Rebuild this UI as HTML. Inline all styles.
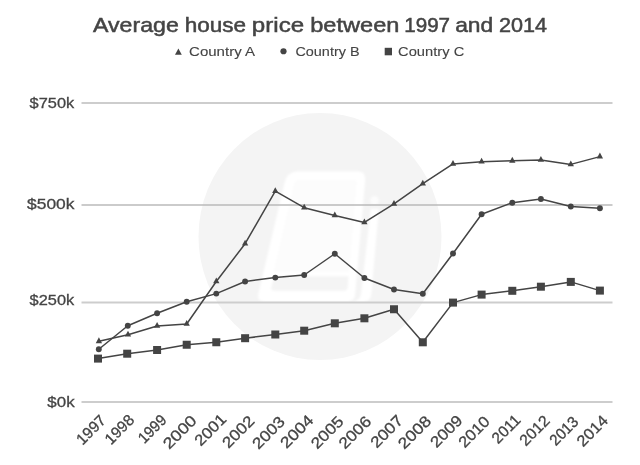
<!DOCTYPE html>
<html><head><meta charset="utf-8"><title>Average house price between 1997 and 2014</title>
<style>html,body{margin:0;padding:0;background:#fff;}body{width:640px;height:465px;overflow:hidden;}svg{display:block;filter:blur(0.4px);}text{font-family:"Liberation Sans",sans-serif;}</style>
</head><body>
<svg width="640" height="465" viewBox="0 0 640 465">
<defs><filter id="soft" x="-5%" y="-5%" width="110%" height="110%"><feGaussianBlur stdDeviation="0.9"/></filter></defs>
<rect x="0" y="0" width="640" height="465" fill="#ffffff"/>
<g id="watermark">
<ellipse cx="320" cy="236.5" rx="121.5" ry="123.5" fill="#f4f4f4"/>
<g filter="url(#soft)">
<path d="M299,171.3 L357,171.3 Q366,171.3 365.2,180 L355.2,294 Q354.5,302 346,302 L266,302 Q256.5,302 258.4,293.5 L284.5,183 Q287,171.3 299,171.3 Z" fill="#ffffff"/>
<path d="M299,180 L354,180 Q357,180 356.7,183 L349.3,272 L273.5,272 L294,184 Q295,180 299,180 Z" fill="#fcfcfc"/>
<path d="M274.3,276.2 L348.6,276.2 L347.6,287.7 Q347.3,290.7 344,290.7 L274.5,290.7 Q270.5,290.7 271.3,287.3 Z" fill="#f4f4f4"/>
<path d="M370.8,209 L378.8,209 L371.3,294 Q370.5,302 362.3,302 L352,302 Q360.3,301 361.2,293 Z" fill="#ffffff"/>
<ellipse cx="374.5" cy="200.5" rx="4.4" ry="4.4" fill="#fcfcfc"/>
</g>
</g>
<line x1="81.5" y1="103" x2="612.5" y2="103" stroke="#cdcdcd" stroke-width="2"/>
<line x1="81.5" y1="205" x2="612.5" y2="205" stroke="#bababa" stroke-width="1.5"/>
<line x1="81.5" y1="302.5" x2="612.5" y2="302.5" stroke="#cdcdcd" stroke-width="2"/>
<line x1="81.5" y1="402" x2="612.5" y2="402" stroke="#cdcdcd" stroke-width="2"/>
<text x="93.03" y="31.60" font-size="20.6" fill="#444444" stroke="#444444" stroke-width="0.5" textLength="85.77" lengthAdjust="spacingAndGlyphs">Average</text>
<text x="184.69" y="31.60" font-size="20.6" fill="#444444" stroke="#444444" stroke-width="0.5" textLength="61.43" lengthAdjust="spacingAndGlyphs">house</text>
<text x="251.88" y="31.60" font-size="20.6" fill="#444444" stroke="#444444" stroke-width="0.5" textLength="52.28" lengthAdjust="spacingAndGlyphs">price</text>
<text x="310.17" y="31.60" font-size="20.6" fill="#444444" stroke="#444444" stroke-width="0.5" textLength="89.24" lengthAdjust="spacingAndGlyphs">between</text>
<text x="404.25" y="31.60" font-size="20.6" fill="#444444" stroke="#444444" stroke-width="0.5" textLength="45.80" lengthAdjust="spacingAndGlyphs">1997</text>
<text x="455.15" y="31.60" font-size="20.6" fill="#444444" stroke="#444444" stroke-width="0.5" textLength="38.10" lengthAdjust="spacingAndGlyphs">and</text>
<text x="499.05" y="31.60" font-size="20.6" fill="#444444" stroke="#444444" stroke-width="0.5" textLength="48.06" lengthAdjust="spacingAndGlyphs">2014</text>
<path d="M178.4,48.4 L181.8,54.8 L175.0,54.8 Z" fill="#444444"/>
<text x="189.05" y="56.40" font-size="13.7" fill="#444444" stroke="#444444" stroke-width="0.12" textLength="65.98" lengthAdjust="spacingAndGlyphs">Country A</text>
<circle cx="283.5" cy="51.25" r="3.1" fill="#444444"/>
<text x="295.41" y="56.40" font-size="13.7" fill="#444444" stroke="#444444" stroke-width="0.12" textLength="64.11" lengthAdjust="spacingAndGlyphs">Country B</text>
<rect x="384.7" y="47.8" width="7.3" height="7.5" fill="#444444"/>
<text x="398.08" y="56.40" font-size="13.7" fill="#444444" stroke="#444444" stroke-width="0.12" textLength="66.20" lengthAdjust="spacingAndGlyphs">Country C</text>
<text x="29.62" y="107.50" font-size="15.3" fill="#444444" stroke="#444444" stroke-width="0.3" textLength="44.62" lengthAdjust="spacingAndGlyphs">$750k</text>
<text x="27.07" y="209.00" font-size="15.3" fill="#444444" stroke="#444444" stroke-width="0.3" textLength="47.42" lengthAdjust="spacingAndGlyphs">$500k</text>
<text x="29.62" y="304.90" font-size="15.3" fill="#444444" stroke="#444444" stroke-width="0.3" textLength="44.62" lengthAdjust="spacingAndGlyphs">$250k</text>
<text x="47.36" y="406.60" font-size="15.3" fill="#444444" stroke="#444444" stroke-width="0.3" textLength="27.24" lengthAdjust="spacingAndGlyphs">$0k</text>
<text transform="translate(107.00,421.25) rotate(-45)" text-anchor="end" font-size="15.5" fill="#444444" stroke="#444444" stroke-width="0.3" textLength="34.78" lengthAdjust="spacingAndGlyphs">1997</text>
<text transform="translate(135.30,421.00) rotate(-45)" text-anchor="end" font-size="15.5" fill="#444444" stroke="#444444" stroke-width="0.3" textLength="34.53" lengthAdjust="spacingAndGlyphs">1998</text>
<text transform="translate(167.50,421.00) rotate(-45)" text-anchor="end" font-size="15.5" fill="#444444" stroke="#444444" stroke-width="0.3" textLength="33.00" lengthAdjust="spacingAndGlyphs">1999</text>
<text transform="translate(197.70,421.60) rotate(-45)" text-anchor="end" font-size="15.5" fill="#444444" stroke="#444444" stroke-width="0.3" textLength="40.25" lengthAdjust="spacingAndGlyphs">2000</text>
<text transform="translate(227.40,420.20) rotate(-45)" text-anchor="end" font-size="15.5" fill="#444444" stroke="#444444" stroke-width="0.3" textLength="37.58" lengthAdjust="spacingAndGlyphs">2001</text>
<text transform="translate(255.50,422.10) rotate(-45)" text-anchor="end" font-size="15.5" fill="#444444" stroke="#444444" stroke-width="0.3" textLength="38.09" lengthAdjust="spacingAndGlyphs">2002</text>
<text transform="translate(285.95,422.60) rotate(-45)" text-anchor="end" font-size="15.5" fill="#444444" stroke="#444444" stroke-width="0.3" textLength="38.73" lengthAdjust="spacingAndGlyphs">2003</text>
<text transform="translate(314.60,421.30) rotate(-45)" text-anchor="end" font-size="15.5" fill="#444444" stroke="#444444" stroke-width="0.3" textLength="39.62" lengthAdjust="spacingAndGlyphs">2004</text>
<text transform="translate(344.50,422.50) rotate(-45)" text-anchor="end" font-size="15.5" fill="#444444" stroke="#444444" stroke-width="0.3" textLength="38.47" lengthAdjust="spacingAndGlyphs">2005</text>
<text transform="translate(372.20,422.50) rotate(-45)" text-anchor="end" font-size="15.5" fill="#444444" stroke="#444444" stroke-width="0.3" textLength="38.60" lengthAdjust="spacingAndGlyphs">2006</text>
<text transform="translate(404.00,421.50) rotate(-45)" text-anchor="end" font-size="15.5" fill="#444444" stroke="#444444" stroke-width="0.3" textLength="38.60" lengthAdjust="spacingAndGlyphs">2007</text>
<text transform="translate(432.10,422.10) rotate(-45)" text-anchor="end" font-size="15.5" fill="#444444" stroke="#444444" stroke-width="0.3" textLength="39.36" lengthAdjust="spacingAndGlyphs">2008</text>
<text transform="translate(463.60,421.50) rotate(-45)" text-anchor="end" font-size="15.5" fill="#444444" stroke="#444444" stroke-width="0.3" textLength="38.22" lengthAdjust="spacingAndGlyphs">2009</text>
<text transform="translate(490.80,422.60) rotate(-45)" text-anchor="end" font-size="15.5" fill="#444444" stroke="#444444" stroke-width="0.3" textLength="36.69" lengthAdjust="spacingAndGlyphs">2010</text>
<text transform="translate(521.50,421.00) rotate(-45)" text-anchor="end" font-size="15.5" fill="#444444" stroke="#444444" stroke-width="0.3" textLength="33.13" lengthAdjust="spacingAndGlyphs">2011</text>
<text transform="translate(550.70,421.70) rotate(-45)" text-anchor="end" font-size="15.5" fill="#444444" stroke="#444444" stroke-width="0.3" textLength="35.29" lengthAdjust="spacingAndGlyphs">2012</text>
<text transform="translate(579.50,422.75) rotate(-45)" text-anchor="end" font-size="15.5" fill="#444444" stroke="#444444" stroke-width="0.3" textLength="33.64" lengthAdjust="spacingAndGlyphs">2013</text>
<text transform="translate(609.00,421.50) rotate(-45)" text-anchor="end" font-size="15.5" fill="#444444" stroke="#444444" stroke-width="0.3" textLength="36.82" lengthAdjust="spacingAndGlyphs">2014</text>
<polyline points="98.00,358.60 127.20,353.70 157.10,350.00 186.70,344.75 216.30,342.25 245.10,338.20 275.30,334.50 304.20,330.70 334.80,323.30 364.40,318.30 394.00,309.25 422.80,342.30 453.00,302.60 481.60,294.60 512.30,290.80 540.90,286.70 570.80,281.90 599.90,290.60" fill="none" stroke="#444444" stroke-width="1.5" stroke-linejoin="round"/>
<polyline points="98.80,349.25 127.80,325.75 157.10,313.25 186.70,301.75 216.30,293.60 245.10,281.50 275.30,277.60 304.20,275.00 334.80,253.75 364.40,278.00 394.00,289.50 422.80,293.75 453.00,253.50 481.60,214.20 512.30,202.70 540.90,199.00 570.80,206.50 599.90,208.20" fill="none" stroke="#444444" stroke-width="1.5" stroke-linejoin="round"/>
<polyline points="98.90,341.30 128.00,334.70 157.10,325.95 186.70,323.95 216.30,281.45 245.10,243.70 275.30,191.20 304.20,207.70 334.80,215.45 364.40,222.45 394.00,203.95 422.80,183.70 453.00,163.95 481.60,161.70 512.30,160.80 540.90,159.90 570.80,164.40 599.90,156.60" fill="none" stroke="#444444" stroke-width="1.5" stroke-linejoin="round"/>
<rect x="94.00" y="354.60" width="8" height="8" fill="#444444"/>
<rect x="123.20" y="349.70" width="8" height="8" fill="#444444"/>
<rect x="153.10" y="346.00" width="8" height="8" fill="#444444"/>
<rect x="182.70" y="340.75" width="8" height="8" fill="#444444"/>
<rect x="212.30" y="338.25" width="8" height="8" fill="#444444"/>
<rect x="241.10" y="334.20" width="8" height="8" fill="#444444"/>
<rect x="271.30" y="330.50" width="8" height="8" fill="#444444"/>
<rect x="300.20" y="326.70" width="8" height="8" fill="#444444"/>
<rect x="330.80" y="319.30" width="8" height="8" fill="#444444"/>
<rect x="360.40" y="314.30" width="8" height="8" fill="#444444"/>
<rect x="390.00" y="305.25" width="8" height="8" fill="#444444"/>
<rect x="418.80" y="338.30" width="8" height="8" fill="#444444"/>
<rect x="449.00" y="298.60" width="8" height="8" fill="#444444"/>
<rect x="477.60" y="290.60" width="8" height="8" fill="#444444"/>
<rect x="508.30" y="286.80" width="8" height="8" fill="#444444"/>
<rect x="536.90" y="282.70" width="8" height="8" fill="#444444"/>
<rect x="566.80" y="277.90" width="8" height="8" fill="#444444"/>
<rect x="595.90" y="286.60" width="8" height="8" fill="#444444"/>
<circle cx="98.80" cy="349.25" r="2.95" fill="#444444"/>
<circle cx="127.80" cy="325.75" r="2.95" fill="#444444"/>
<circle cx="157.10" cy="313.25" r="2.95" fill="#444444"/>
<circle cx="186.70" cy="301.75" r="2.95" fill="#444444"/>
<circle cx="216.30" cy="293.60" r="2.95" fill="#444444"/>
<circle cx="245.10" cy="281.50" r="2.95" fill="#444444"/>
<circle cx="275.30" cy="277.60" r="2.95" fill="#444444"/>
<circle cx="304.20" cy="275.00" r="2.95" fill="#444444"/>
<circle cx="334.80" cy="253.75" r="2.95" fill="#444444"/>
<circle cx="364.40" cy="278.00" r="2.95" fill="#444444"/>
<circle cx="394.00" cy="289.50" r="2.95" fill="#444444"/>
<circle cx="422.80" cy="293.75" r="2.95" fill="#444444"/>
<circle cx="453.00" cy="253.50" r="2.95" fill="#444444"/>
<circle cx="481.60" cy="214.20" r="2.95" fill="#444444"/>
<circle cx="512.30" cy="202.70" r="2.95" fill="#444444"/>
<circle cx="540.90" cy="199.00" r="2.95" fill="#444444"/>
<circle cx="570.80" cy="206.50" r="2.95" fill="#444444"/>
<circle cx="599.90" cy="208.20" r="2.95" fill="#444444"/>
<path d="M98.90,337.30 L102.05,343.15 L95.75,343.15 Z" fill="#444444"/>
<path d="M128.00,330.70 L131.15,336.55 L124.85,336.55 Z" fill="#444444"/>
<path d="M157.10,321.95 L160.25,327.80 L153.95,327.80 Z" fill="#444444"/>
<path d="M186.70,319.95 L189.85,325.80 L183.55,325.80 Z" fill="#444444"/>
<path d="M216.30,277.45 L219.45,283.30 L213.15,283.30 Z" fill="#444444"/>
<path d="M245.10,239.70 L248.25,245.55 L241.95,245.55 Z" fill="#444444"/>
<path d="M275.30,187.20 L278.45,193.05 L272.15,193.05 Z" fill="#444444"/>
<path d="M304.20,203.70 L307.35,209.55 L301.05,209.55 Z" fill="#444444"/>
<path d="M334.80,211.45 L337.95,217.30 L331.65,217.30 Z" fill="#444444"/>
<path d="M364.40,218.45 L367.55,224.30 L361.25,224.30 Z" fill="#444444"/>
<path d="M394.00,199.95 L397.15,205.80 L390.85,205.80 Z" fill="#444444"/>
<path d="M422.80,179.70 L425.95,185.55 L419.65,185.55 Z" fill="#444444"/>
<path d="M453.00,159.95 L456.15,165.80 L449.85,165.80 Z" fill="#444444"/>
<path d="M481.60,157.70 L484.75,163.55 L478.45,163.55 Z" fill="#444444"/>
<path d="M512.30,156.80 L515.45,162.65 L509.15,162.65 Z" fill="#444444"/>
<path d="M540.90,155.90 L544.05,161.75 L537.75,161.75 Z" fill="#444444"/>
<path d="M570.80,160.40 L573.95,166.25 L567.65,166.25 Z" fill="#444444"/>
<path d="M599.90,152.60 L603.05,158.45 L596.75,158.45 Z" fill="#444444"/>
</svg></body></html>
